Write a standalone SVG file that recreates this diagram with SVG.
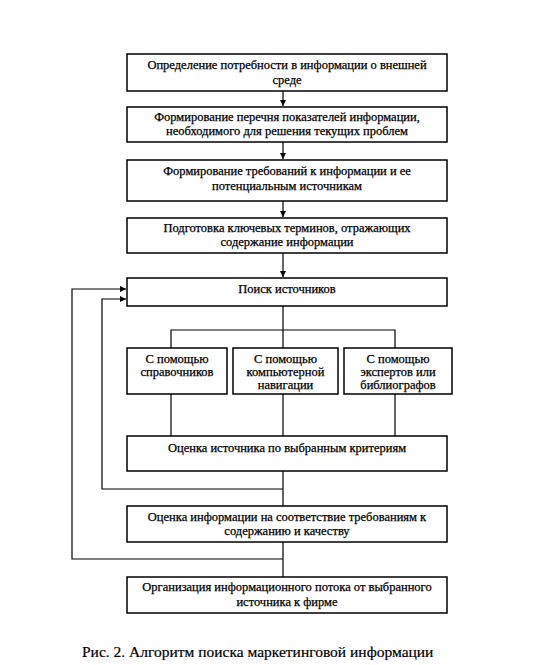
<svg xmlns="http://www.w3.org/2000/svg" width="550" height="665" viewBox="0 0 550 665">
<style>
.box{fill:#fff;stroke:#000;stroke-width:1.5}
.t{font-family:"Liberation Serif","Times New Roman",serif;font-size:12.5px;fill:#000;stroke:#000;stroke-width:0.25;text-anchor:middle}
.c{stroke:#000;stroke-width:1.2;fill:none}
.cap{font-family:"Liberation Serif","Times New Roman",serif;font-size:15.5px;fill:#000;stroke:#000;stroke-width:0.2}
</style>
<defs>
<marker id="ah" markerWidth="8" markerHeight="8" refX="6" refY="3" orient="auto" markerUnits="userSpaceOnUse">
<path d="M0,0 L6,3 L0,6 z" fill="#000"/>
</marker>
</defs>
<rect width="550" height="665" fill="#fff"/>
<g id="connectors">
<line class="c" x1="283" y1="91" x2="283" y2="106" marker-end="url(#ah)"/>
<line class="c" x1="283" y1="142" x2="283" y2="159" marker-end="url(#ah)"/>
<line class="c" x1="283" y1="201" x2="283" y2="217" marker-end="url(#ah)"/>
<line class="c" x1="283" y1="253" x2="283" y2="277" marker-end="url(#ah)"/>
<polyline class="c" points="283,306 283,330"/>
<polyline class="c" points="171,348 171,330 395,330 395,348"/>
<line class="c" x1="283" y1="330" x2="283" y2="348"/>
<line class="c" x1="171" y1="394" x2="171" y2="436"/>
<line class="c" x1="283" y1="394" x2="283" y2="436"/>
<line class="c" x1="395" y1="394" x2="395" y2="436"/>
<line class="c" x1="283" y1="471" x2="283" y2="506"/>
<polyline class="c" points="283,489 102,489 102,299 126,299" marker-end="url(#ah)"/>
<line class="c" x1="283" y1="542" x2="283" y2="577"/>
<polyline class="c" points="283,559 72,559 72,289 126,289" marker-end="url(#ah)"/>
</g>
<g id="n1"><rect class="box" x="127" y="54" width="320" height="37"/>
<text class="t" x="287" y="69">Определение потребности в информации о внешней</text>
<text class="t" x="287" y="84">среде</text></g>
<g id="n2"><rect class="box" x="127" y="107" width="320" height="35"/>
<text class="t" x="287" y="121">Формирование перечня показателей информации,</text>
<text class="t" x="287" y="135">необходимого для решения текущих проблем</text></g>
<g id="n3"><rect class="box" x="127" y="160" width="320" height="41"/>
<text class="t" x="287" y="175">Формирование требований к информации и ее</text>
<text class="t" x="287" y="190">потенциальным источникам</text></g>
<g id="n4"><rect class="box" x="127" y="218" width="320" height="35"/>
<text class="t" x="287" y="232">Подготовка ключевых терминов, отражающих</text>
<text class="t" x="287" y="246">содержание информации</text></g>
<g id="n5"><rect class="box" x="127" y="278" width="320" height="28"/>
<text class="t" x="287" y="293">Поиск источников</text></g>
<g id="n6"><rect class="box" x="127" y="348" width="100" height="46"/>
<text class="t" x="177" y="363">С помощью</text>
<text class="t" x="177" y="376">справочников</text></g>
<g id="n7"><rect class="box" x="233" y="348" width="105" height="46"/>
<text class="t" x="285.5" y="363">С помощью</text>
<text class="t" x="285.5" y="376">компьютерной</text>
<text class="t" x="285.5" y="389">навигации</text></g>
<g id="n8"><rect class="box" x="344" y="348" width="108" height="46"/>
<text class="t" x="398" y="363">С помощью</text>
<text class="t" x="398" y="376">экспертов или</text>
<text class="t" x="398" y="389">библиографов</text></g>
<g id="n9"><rect class="box" x="127" y="436" width="320" height="35"/>
<text class="t" x="287" y="452">Оценка источника по выбранным критериям</text></g>
<g id="n10"><rect class="box" x="127" y="506" width="320" height="36"/>
<text class="t" x="287" y="521">Оценка информации на соответствие требованиям к</text>
<text class="t" x="287" y="535">содержанию и качеству</text></g>
<g id="n11"><rect class="box" x="127" y="577" width="320" height="36"/>
<text class="t" x="287" y="591">Организация информационного потока от выбранного</text>
<text class="t" x="287" y="606">источника к фирме</text></g>
<text class="cap" x="82" y="657">Рис. 2. Алгоритм поиска маркетинговой информации</text>
</svg>
